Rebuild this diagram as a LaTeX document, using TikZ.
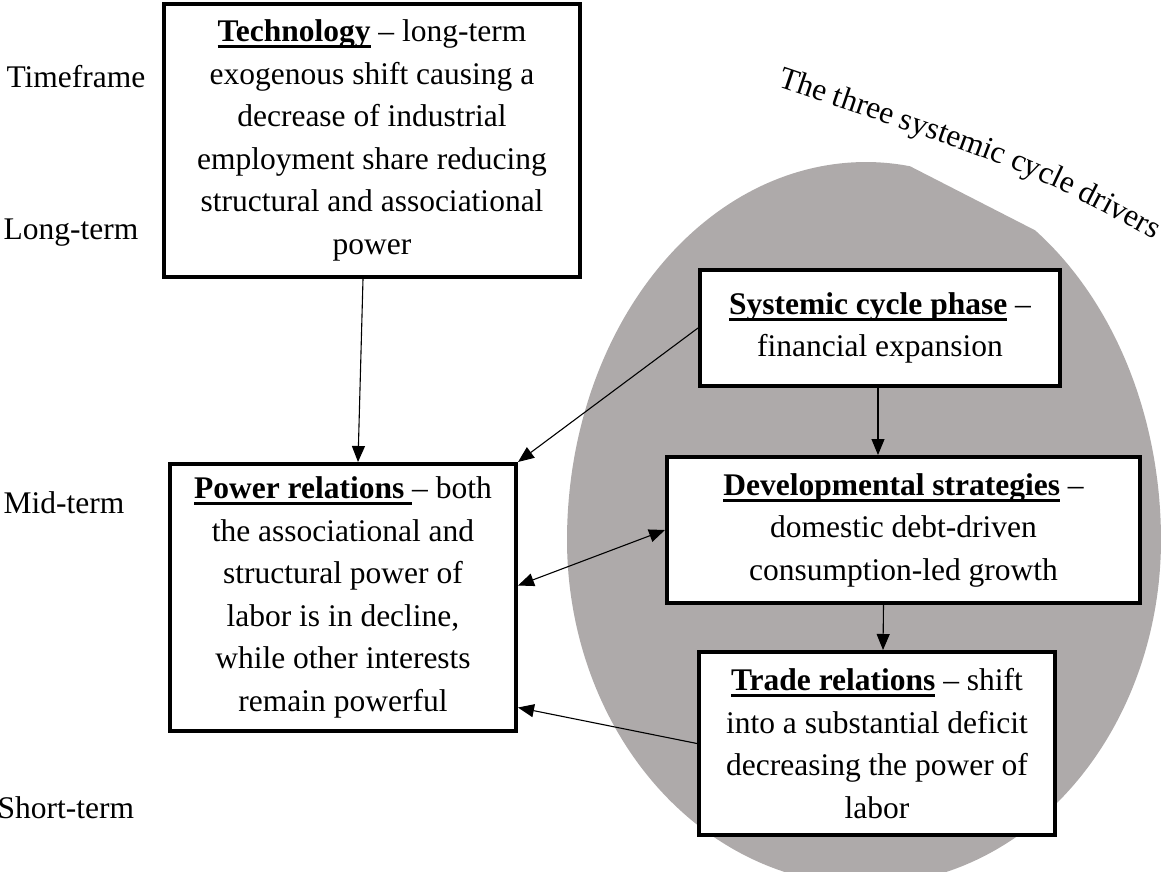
\documentclass[tikz,border=0pt]{standalone}
\usepackage{fontspec}
\setmainfont{Liberation Serif}
\usepackage{tikz}
\usetikzlibrary{arrows.meta,decorations.text}
\tikzset{>={Triangle[length=16pt,width=13pt]}}
\usepackage{xcolor}
\definecolor{cyclegrey}{RGB}{174,170,170}
\newcommand{\headul}[1]{\sbox0{\bfseries #1}\rlap{\rule[-6.5pt]{\wd0}{3pt}}\usebox0}
\tikzset{
  textbox/.style={draw, line width=4pt, fill=white, align=center, inner sep=0pt},
  termlabel/.style={anchor=base west, inner sep=0pt}
}

\begin{document}
\begin{tikzpicture}[x=1pt,y=-1pt,line width=1.1pt,font=\fontsize{31.5}{42.5}\selectfont]
  \useasboundingbox (0,0) rectangle (1171,871);
  \fill[cyclegrey] plot[domain=-55:278.6,samples=200,smooth] ({866+(cos(\x)>0?295:299)*cos(\x)},{540+(sin(\x)>0?345:378)*sin(\x)}) -- cycle;
  \path[decorate,decoration={text along path,text={|\fontsize{31.5}{40}\selectfont|The three systemic cycle drivers}}] (777,86) .. controls (1037,174) .. (1186,258);

  \node[termlabel] (timeframe) at (6,87) {Timeframe};
  \node[termlabel] (longterm) at (3,239) {Long-term};
  \node[termlabel] (midterm) at (3,513) {Mid-term};
  \node[termlabel] (shortterm) at (-3,818) {Short-term};

  \node[textbox, minimum width=416pt, minimum height=273pt] (tech) at (372,140.5) {\headul{Technology} – long-term\\exogenous shift causing a\\decrease of industrial\\employment share reducing\\structural and associational\\power};
  \node[textbox, minimum width=346pt, minimum height=267pt] (power) at (343,597.5) {\headul{Power relations\ }– both\\the associational and\\structural power of\\labor is in decline,\\while other interests\\remain powerful};
  \node[textbox, minimum width=360pt, minimum height=116pt] (sys) at (880,328) {\headul{Systemic cycle phase} –\\financial expansion};
  \node[textbox, minimum width=473pt, minimum height=146pt] (dev) at (903.5,530) {\headul{Developmental strategies} –\\domestic debt-driven\\consumption-led growth};
  \node[textbox, minimum width=356pt, minimum height=183pt] (trade) at (877,743.5) {\headul{Trade relations} – shift\\into a substantial deficit\\decreasing the power of\\labor};

  \draw[->] ([xshift=-9pt]tech.south) -- ([xshift=15pt]power.north);
  \draw[->] (sys.west) -- (power.north east);
  \draw[<->] ([yshift=12pt]power.east) -- (dev.west);
  \draw[->] ([xshift=-2pt]sys.south) -- ([xshift=-2pt]sys.south |- dev.north);
  \draw[->] ([xshift=-20pt]dev.south) -- ([xshift=6pt]trade.north);
  \draw[->] (trade.west) -- ([yshift=-110pt]power.east);
\end{tikzpicture}
\end{document}
